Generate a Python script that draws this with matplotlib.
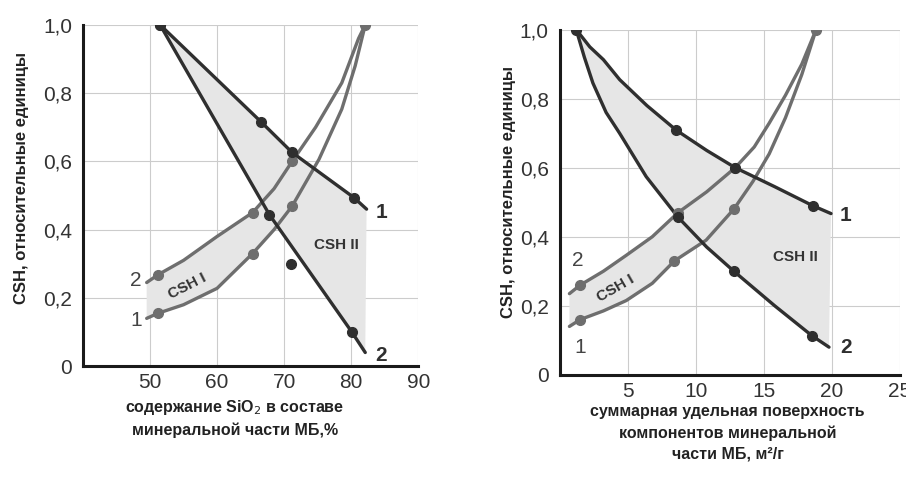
import numpy as np
import matplotlib
matplotlib.use("Agg")
import matplotlib.pyplot as plt

plt.rcParams['font.family'] = ['Liberation Sans', 'DejaVu Sans']

# --- left panel: SiO2 content, % ---
l_d1_x = [51.5, 66.6, 71.2, 80.4, 82.3]
l_d1_y = [1.0, 0.715, 0.626, 0.494, 0.46]
l_d1_mx = [51.5, 66.6, 71.2, 80.4]
l_d1_my = [1.0, 0.715, 0.626, 0.494]

l_d2_x = [51.5, 67.8, 80.1, 82.1]
l_d2_y = [1.0, 0.444, 0.10, 0.04]
l_d2_mx = [51.5, 67.8, 71.0, 80.1]
l_d2_my = [1.0, 0.444, 0.30, 0.10]

l_a2_x = [49.5, 51.2, 55.0, 60.0, 65.3, 68.5, 71.2, 74.7, 78.6, 81.1, 82.1]
l_a2_y = [0.245, 0.268, 0.31, 0.38, 0.45, 0.52, 0.60, 0.70, 0.83, 0.96, 1.0]
l_a2_mx = [51.2, 65.3, 71.2, 82.1]
l_a2_my = [0.268, 0.45, 0.60, 1.0]

l_a1_x = [49.5, 51.2, 55.0, 60.0, 65.3, 68.5, 71.2, 75.2, 78.6, 80.6, 82.1]
l_a1_y = [0.14, 0.155, 0.18, 0.228, 0.33, 0.40, 0.469, 0.606, 0.753, 0.88, 1.0]
l_a1_mx = [51.2, 65.3, 71.2]
l_a1_my = [0.155, 0.33, 0.469]

# --- right panel: specific surface, m2/g ---
r_d1_x = [1.2, 2.2, 3.2, 4.4, 6.4, 8.55, 10.8, 12.9, 15.8, 18.6, 19.95]
r_d1_y = [1.0, 0.95, 0.913, 0.855, 0.78, 0.709, 0.65, 0.60, 0.545, 0.49, 0.467]
r_d1_mx = [1.2, 8.55, 12.9, 18.6]
r_d1_my = [1.0, 0.709, 0.60, 0.49]

r_d2_x = [1.2, 1.8, 2.43, 3.4, 4.39, 6.35, 8.68, 10.8, 12.8, 15.8, 18.55, 19.8]
r_d2_y = [1.0, 0.92, 0.845, 0.76, 0.70, 0.574, 0.457, 0.37, 0.30, 0.20, 0.113, 0.08]
r_d2_mx = [8.68, 12.8, 18.55]
r_d2_my = [0.457, 0.30, 0.113]

r_a2_x = [0.7, 1.5, 3.2, 4.88, 6.8, 8.7, 10.8, 12.9, 14.3, 15.4, 16.6, 17.8, 18.85]
r_a2_y = [0.235, 0.26, 0.30, 0.346, 0.40, 0.47, 0.53, 0.60, 0.66, 0.729, 0.81, 0.90, 1.0]
r_a2_mx = [1.5, 8.7, 12.9, 18.85]
r_a2_my = [0.26, 0.47, 0.60, 1.0]

r_a1_x = [0.7, 1.5, 3.2, 4.88, 6.8, 8.43, 10.76, 12.8, 14.2, 15.4, 16.6, 17.8, 18.85]
r_a1_y = [0.14, 0.16, 0.185, 0.215, 0.265, 0.33, 0.39, 0.48, 0.56, 0.64, 0.745, 0.87, 1.0]
r_a1_mx = [1.5, 8.43, 12.8]
r_a1_my = [0.16, 0.33, 0.48]

yticks = [0, 0.2, 0.4, 0.6, 0.8, 1.0]
ytick_labels = ['0', '0,2', '0,4', '0,6', '0,8', '1,0']

dark = '#2f2f2f'
mid = '#6e6e6e'
shade = '#e6e6e6'


def style_axes(ax, xlim, xticks):
    ax.set_xlim(*xlim)
    ax.set_ylim(0, 1.0)
    ax.set_xticks(xticks)
    ax.set_xticklabels([str(t) for t in xticks])
    ax.set_yticks(yticks)
    ax.set_yticklabels(ytick_labels)
    ax.tick_params(length=0, labelsize=15, labelcolor='#333333', pad=8)
    ax.tick_params(axis='x', pad=5)
    ax.grid(True, color='#cccccc', lw=0.8)
    ax.set_axisbelow(True)
    for s in ['top', 'right']:
        ax.spines[s].set_visible(False)
    for s in ['left', 'bottom']:
        ax.spines[s].set_linewidth(2.2)
        ax.spines[s].set_color('#1a1a1a')
        ax.spines[s].set_zorder(5)


def draw_panel(ax, d1, d2, a2, a1, k1, k2):
    # CSH I zone between the rising curves, CSH II between the falling ones
    ax.fill(np.r_[a2[0][:k2], a1[0][:k1][::-1]], np.r_[a2[1][:k2], a1[1][:k1][::-1]],
            color=shade, lw=0, zorder=1)
    ax.fill(np.r_[d1[0], d2[0][::-1]], np.r_[d1[1], d2[1][::-1]],
            color=shade, lw=0, zorder=1)
    for xs, ys, mx, my, c in [a2, a1]:
        ax.plot(xs, ys, color=c, lw=2.4, zorder=3, solid_capstyle='round')
        ax.plot(mx, my, 'o', color=c, ms=7, zorder=4)
    for xs, ys, mx, my, c in [d1, d2]:
        ax.plot(xs, ys, color=c, lw=2.4, zorder=3, solid_capstyle='round')
        ax.plot(mx, my, 'o', color=c, ms=7, zorder=4)


fig = plt.figure(figsize=(9.06, 4.78), dpi=100)
ax1 = fig.add_axes([0.0916, 0.234, 0.370, 0.714])
ax2 = fig.add_axes([0.618, 0.216, 0.375, 0.722])

style_axes(ax1, (40, 90), [50, 60, 70, 80, 90])
style_axes(ax2, (0, 25), [5, 10, 15, 20, 25])

draw_panel(ax1,
           (l_d1_x, l_d1_y, l_d1_mx, l_d1_my, dark),
           (l_d2_x, l_d2_y, l_d2_mx, l_d2_my, dark),
           (l_a2_x, l_a2_y, l_a2_mx, l_a2_my, mid),
           (l_a1_x, l_a1_y, l_a1_mx, l_a1_my, mid),
           7, 7)
draw_panel(ax2,
           (r_d1_x, r_d1_y, r_d1_mx, r_d1_my, dark),
           (r_d2_x, r_d2_y, r_d2_mx, r_d2_my, dark),
           (r_a2_x, r_a2_y, r_a2_mx, r_a2_my, mid),
           (r_a1_x, r_a1_y, r_a1_mx, r_a1_my, mid),
           8, 8)

# curve numbers and zone names
ax1.text(83.6, 0.45, '1', fontsize=15, fontweight='bold', color=dark, va='center')
ax1.text(83.6, 0.03, '2', fontsize=15, fontweight='bold', color=dark, va='center')
ax1.text(48.8, 0.25, '2', fontsize=15, color='#444444', ha='right', va='center')
ax1.text(48.8, 0.135, '1', fontsize=15, color='#444444', ha='right', va='center')
ax1.text(77.8, 0.355, 'CSH II', fontsize=11, fontweight='bold', color='#333333',
         ha='center', va='center')
ax1.text(55.6, 0.235, 'CSH I', fontsize=11, fontweight='bold', color='#333333',
         ha='center', va='center', rotation=27)

ax2.text(20.6, 0.46, '1', fontsize=15, fontweight='bold', color=dark, va='center')
ax2.text(20.6, 0.08, '2', fontsize=15, fontweight='bold', color=dark, va='center')
ax2.text(1.3, 0.33, '2', fontsize=15, color='#444444', ha='center', va='center')
ax2.text(1.5, 0.08, '1', fontsize=15, color='#444444', ha='center', va='center')
ax2.text(17.3, 0.34, 'CSH II', fontsize=11, fontweight='bold', color='#333333',
         ha='center', va='center')
ax2.text(4.1, 0.25, 'CSH I', fontsize=11, fontweight='bold', color='#333333',
         ha='center', va='center', rotation=30)

# axis titles
fig.text(0.024, 0.628, 'CSH, относительные единицы', rotation=90, fontsize=12,
         fontweight='bold', color='#222222', ha='center', va='center')
fig.text(0.561, 0.598, 'CSH, относительные единицы', rotation=90, fontsize=12,
         fontweight='bold', color='#222222', ha='center', va='center')
fig.text(0.259, 0.126, 'содержание SiO$_2$ в составе\nминеральной части МБ,%',
         fontsize=11.5, fontweight='bold', color='#222222', ha='center', va='center',
         linespacing=1.45)
fig.text(0.803, 0.094, 'суммарная удельная поверхность\nкомпонентов минеральной\nчасти МБ, м²/г',
         fontsize=11.5, fontweight='bold', color='#222222', ha='center', va='center',
         linespacing=1.5)

fig.savefig('out.png', dpi=100)
